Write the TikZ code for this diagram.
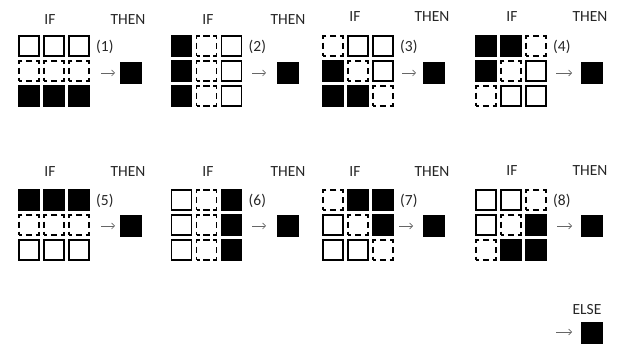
\documentclass[tikz,border=0pt]{standalone}
\usepackage{fontspec}
\setmainfont{Carlito}
\usetikzlibrary{arrows.meta}
\begin{document}
\begin{tikzpicture}[x=1pt,y=-1pt,
  cell/.style={rectangle, minimum size=20pt, inner sep=0pt, line width=1.9pt},
  cellS/.style={cell, draw=black},
  cellD/.style={cell, draw=black, dash pattern=on 6.5pt off 3.5pt, dash phase=3.25pt},
  cellF/.style={cell, draw=black, fill=black},
  result/.style={rectangle, minimum size=22pt, inner sep=0pt, fill=black},
  head/.style={inner sep=0pt, font=\fontsize{15.5}{18}\selectfont, text=black!85},
  arr/.style={draw=black!60, line width=0.7pt, -{Straight Barb[length=3pt,width=6pt]}},
]
\useasboundingbox (0,0) rectangle (619,344);

% n / left edge / top row y / heading y / IF x / THEN x / arrow from / arrow to / box x / box y / cells
\foreach \n/\L/\Y/\H/\ix/\tx/\as/\ae/\bx/\by/\p in {
  1/18/46/20/50/128/101/115/130.5/73/{S,S,S,D,D,D,F,F,F},
  2/170.5/46/20/208/288/252/266/287.5/73/{F,D,S,F,D,S,F,D,S},
  3/322/46/17/355/432/402/416/434/73/{D,S,S,F,D,S,F,F,D},
  4/475/46/17/512/590/556/572/591.5/73/{F,F,D,F,D,S,D,S,S},
  5/18/200/172/50/128/101/115/130.5/226/{F,F,F,D,D,D,S,S,S},
  6/170.5/200/172/208/288/252/266/287.5/226/{S,D,F,S,D,F,S,D,F},
  7/322/200/172/355/432/399/413/434/226/{D,F,F,S,D,F,S,S,D},
  8/475/200/171/512/590/557/572/591.5/226/{S,S,D,S,D,F,D,F,F}} {
  % 3x3 condition grid
  \foreach \t [count=\i from 0] in \p {
    \pgfmathtruncatemacro\r{int(\i/3)}
    \pgfmathtruncatemacro\c{mod(\i,3)}
    \node[style=cell\t] (g\n-\r\c) at ({\L+11+25*\c},{\Y+25*\r}) {};
  }
  \node[head] (if\n) at (\ix,\H) {IF};
  \node[head] (then\n) at (\tx,\H) {THEN};
  \node[head, anchor=west] (lab\n) at ({\L+78},{\Y+1}) {(\n)};
  \node[result] (res\n) at (\bx,\by) {};
  \coordinate (as\n) at (\as,\by);
  \coordinate (ae\n) at (\ae,\by);
  \draw[arr] (as\n) -- (ae\n);
}

% default case
\node[head] (elsetxt) at (587,310) {ELSE};
\node[result] (resE) at (592,333) {};
\coordinate (asE) at (556,332);
\coordinate (aeE) at (572,332);
\draw[arr] (asE) -- (aeE);
\end{tikzpicture}
\end{document}
